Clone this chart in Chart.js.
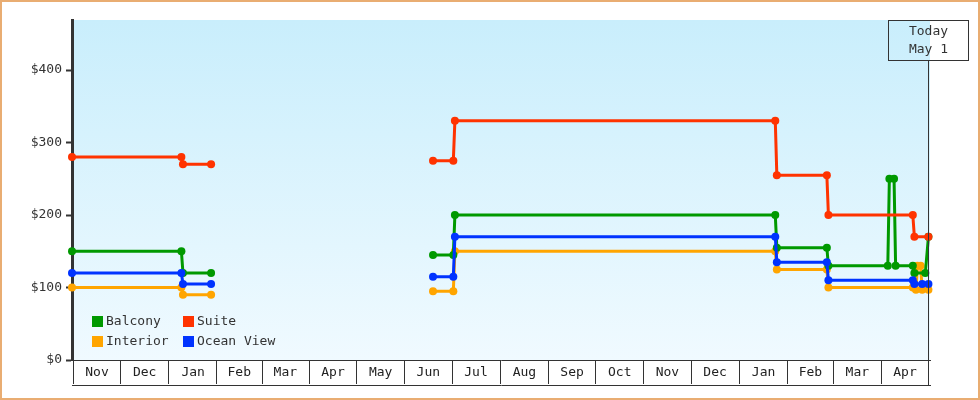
<!DOCTYPE html>
<html>
<head>
<meta charset="utf-8">
<script src="https://cdn.jsdelivr.net/npm/chart.js@4.4.1/dist/chart.umd.min.js"></script>
<style>
  html, body { margin: 0; padding: 0; background: #fff; }
  #wrap { position: relative; width: 980px; height: 400px; }
  #frame { position: absolute; left: 0; top: 0; right: 0; bottom: 0; border: 2px solid #e9ad72; pointer-events: none; }
</style>
</head>
<body>
<div id="wrap"><canvas id="fares"></canvas><div id="frame"></div></div>
<script>
// axis range and labels
var startDate = '2022-10-31';
var endDate = '2024-05-02';
var todayDate = '2024-05-01';
var todayText = ['Today', 'May 1'];
var monthLabels = ['Nov','Dec','Jan','Feb','Mar','Apr','May','Jun','Jul','Aug','Sep','Oct','Nov','Dec','Jan','Feb','Mar','Apr'];
var yTicks = [0, 100, 200, 300, 400];
var yMax = 469;

// price history per cabin type (null = no data)
var balconyDates = ['2022-10-31','2023-01-09','2023-01-10','2023-01-28','2023-03-15','2023-06-19','2023-07-02','2023-07-03','2024-01-24','2024-01-25','2024-02-26','2024-02-27','2024-04-05','2024-04-06','2024-04-09','2024-04-10','2024-04-21','2024-04-22','2024-04-29','2024-05-01'];
var balconyPrices = [150,150,120,120,null,145,145,200,200,155,155,130,130,250,250,130,130,120,120,170];

var suiteDates = ['2022-10-31','2023-01-09','2023-01-10','2023-01-28','2023-03-15','2023-06-19','2023-07-02','2023-07-03','2024-01-24','2024-01-25','2024-02-26','2024-02-27','2024-04-21','2024-04-22','2024-05-01'];
var suitePrices = [280,280,270,270,null,275,275,330,330,255,255,200,200,170,170];

var interiorDates = ['2022-10-31','2023-01-09','2023-01-10','2023-01-28','2023-03-15','2023-06-19','2023-07-02','2023-07-03','2024-01-24','2024-01-25','2024-02-26','2024-02-27','2024-04-21','2024-04-23','2024-04-24','2024-04-26','2024-04-27','2024-05-01'];
var interiorPrices = [100,100,90,90,null,95,95,150,150,125,125,100,100,97,130,130,97,97];

var oceanDates = ['2022-10-31','2023-01-09','2023-01-10','2023-01-28','2023-03-15','2023-06-19','2023-07-02','2023-07-03','2024-01-24','2024-01-25','2024-02-26','2024-02-27','2024-04-21','2024-04-22','2024-04-27','2024-05-01'];
var oceanPrices = [120,120,105,105,null,115,115,170,170,135,135,110,110,105,105,105];

var monoFont = { family: 'DejaVu Sans Mono', size: 13 };

function dayOf(s) {
  var p = s.split('-'), q = startDate.split('-');
  return (Date.UTC(+p[0], p[1] - 1, +p[2]) - Date.UTC(+q[0], q[1] - 1, +q[2])) / 864e5;
}

// month tick positions (middle of each month)
var monthMids = [];
for (var i = 0; i < monthLabels.length; i++) {
  var a = (Date.UTC(2022, 10 + i, 1) - Date.UTC(2022, 9, 31)) / 864e5;
  var b = (Date.UTC(2022, 11 + i, 1) - Date.UTC(2022, 9, 31)) / 864e5;
  monthMids.push((a + b) / 2);
}

function lineSet(label, color, dates, prices, order) {
  return {
    label: label,
    data: dates.map(function(d, i){ return { x: dayOf(d), y: prices[i] }; }),
    borderColor: color,
    backgroundColor: color,
    pointBackgroundColor: color,
    borderWidth: 3,
    pointRadius: 4,
    pointHoverRadius: 4,
    pointBorderWidth: 0,
    tension: 0,
    spanGaps: false,
    clip: false,
    order: order,
    xAxisID: 'x',
    yAxisID: 'y'
  };
}

var plotBackground = {
  id: 'plotBackground',
  beforeDraw: function(chart) {
    var c = chart.ctx, ca = chart.chartArea;
    var g = c.createLinearGradient(0, ca.top, 0, ca.bottom);
    g.addColorStop(0, '#c9eefc');
    g.addColorStop(1, '#f0faff');
    c.save();
    c.fillStyle = g;
    c.fillRect(ca.left, ca.top, ca.right - ca.left, ca.bottom - ca.top);
    c.restore();
  }
};

var insideLegend = {
  id: 'insideLegend',
  afterDraw: function(chart) {
    var c = chart.ctx, ca = chart.chartArea;
    c.save();
    c.font = '13px "DejaVu Sans Mono"';
    c.textBaseline = 'middle';
    c.textAlign = 'left';
    chart.data.datasets.forEach(function(ds, i) {
      var bx = ca.left + 20 + (i % 2) * 91;
      var by = ca.bottom - 44 + Math.floor(i / 2) * 20;
      c.fillStyle = ds.borderColor;
      c.fillRect(bx, by, 11, 11);
      c.fillStyle = '#333';
      c.fillText(ds.label, bx + 14, by + 5.5);
    });
    c.restore();
  }
};

var todayMarker = {
  id: 'todayMarker',
  afterDraw: function(chart) {
    var c = chart.ctx, ca = chart.chartArea;
    var px = Math.round(chart.scales.x.getPixelForValue(dayOf(todayDate))) + 0.5;
    var bottom = chart.scales.xb.top;
    c.save();
    c.strokeStyle = '#333';
    c.lineWidth = 1;
    c.beginPath();
    c.moveTo(px, ca.top + 40);
    c.lineTo(px, bottom);
    c.stroke();
    c.strokeRect(px - 40, ca.top + 0.5, 80, 40);
    c.fillStyle = '#333';
    c.font = '13px "DejaVu Sans Mono"';
    c.textAlign = 'center';
    c.textBaseline = 'middle';
    c.fillText(todayText[0], px, ca.top + 12);
    c.fillText(todayText[1], px, ca.top + 30);
    c.restore();
  }
};

var chart = new Chart(document.getElementById('fares'), {
  type: 'line',
  data: {
    datasets: [
      lineSet('Balcony', '#009900', balconyDates, balconyPrices, 2),
      lineSet('Suite', '#ff3300', suiteDates, suitePrices, 0),
      lineSet('Interior', '#ffa500', interiorDates, interiorPrices, 3),
      lineSet('Ocean View', '#0033ff', oceanDates, oceanPrices, 1)
    ]
  },
  options: {
    responsive: true,
    maintainAspectRatio: false,
    animation: false,
    layout: { padding: { top: 20, right: 50, bottom: 15, left: 0 } },
    plugins: { legend: { display: false }, tooltip: { enabled: false } },
    scales: {
      x: {
        type: 'linear',
        position: 'bottom',
        min: 0,
        max: dayOf(endDate),
        afterBuildTicks: function(s){ s.ticks = monthMids.map(function(v){ return { value: v }; }); },
        afterFit: function(s){ s.height = 25; },
        grid: { offset: true, drawOnChartArea: false, drawTicks: true, tickLength: 24, color: '#333', lineWidth: 1 },
        border: { display: true, color: '#333', width: 1 },
        ticks: {
          autoSkip: false, maxRotation: 0, padding: -19, color: '#222', font: monoFont,
          callback: function(v, i){ return monthLabels[i]; }
        }
      },
      xb: {
        type: 'linear',
        position: 'bottom',
        weight: 1,
        afterFit: function(s){ s.height = 0; },
        grid: { drawOnChartArea: false, drawTicks: false, color: 'rgba(0,0,0,0)' },
        ticks: { display: false },
        border: { display: true, color: '#333', width: 1 }
      },
      y: {
        min: 0,
        max: yMax,
        afterBuildTicks: function(s){ s.ticks = yTicks.map(function(v){ return { value: v }; }); },
        afterFit: function(s){ s.width = 72; },
        grid: { drawOnChartArea: false, tickLength: 6, tickWidth: 2, tickColor: '#333' },
        border: { color: '#333', width: 3 },
        ticks: { padding: 4, color: '#333', font: monoFont, callback: function(v){ return '$' + v; } }
      }
    }
  },
  plugins: [plotBackground, insideLegend, todayMarker]
});
</script>
</body>
</html>
